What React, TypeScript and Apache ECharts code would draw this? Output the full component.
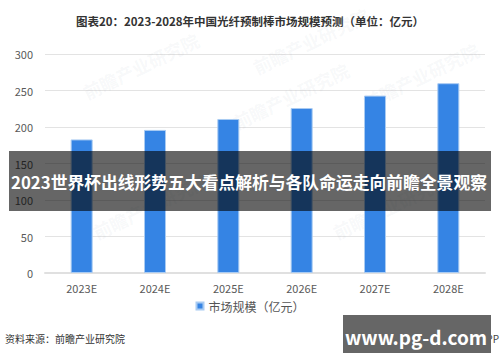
import React, { useEffect, useRef } from "react";
import * as echarts from "echarts";

const categories = ["2023E", "2024E", "2025E", "2026E", "2027E", "2028E"];
const marketSize = [183, 196, 211, 226, 243, 260];
const seriesName = "市场规模（亿元）";
const titleText = "图表20：2023-2028年中国光纤预制棒市场规模预测（单位：亿元）";
const overlayText = "2023世界杯出线形势五大看点解析与各队命运走向前瞻全景观察";
const sourceText = "资料来源：前瞻产业研究院";
const siteText = "www.pg-d.com";

const FONT = "'Noto Sans CJK SC', 'Noto Sans', sans-serif";

export default function App() {
  const ref = useRef<HTMLDivElement>(null);
  useEffect(() => {
    if (!ref.current) return;
    const chart = echarts.init(ref.current, null, { renderer: "svg" });
    const wm = (x: number, y: number) => ({
      type: "text",
      x,
      y,
      rotation: Math.PI / 7,
      z: 1,
      style: {
        text: "前瞻产业研究院",
        font: `bold 18px ${FONT}`,
        fill: "rgba(150,160,175,0.08)",
      },
    });
    chart.setOption({
      animation: false,
      backgroundColor: "#ffffff",
      textStyle: { fontFamily: FONT },
      grid: { left: 45, right: 15, top: 54, bottom: 89 },
      legend: {
        data: [seriesName],
        bottom: 45,
        left: "center",
        icon: "rect",
        itemWidth: 7,
        itemHeight: 7,
        itemGap: 4,
        textStyle: { fontSize: 12, color: "#555555", fontFamily: FONT },
      },
      xAxis: {
        type: "category",
        data: categories,
        axisTick: { show: false },
        axisLine: { lineStyle: { color: "#e0e0e0", width: 2 } },
        axisLabel: { color: "#595959", fontSize: 11, margin: 9, fontFamily: FONT },
      },
      yAxis: {
        type: "value",
        min: 0,
        max: 300,
        interval: 50,
        axisLine: { show: false },
        axisTick: { show: false },
        axisLabel: { color: "#595959", fontSize: 11, margin: 12, fontFamily: FONT },
        splitLine: { lineStyle: { color: "#e3e3e3", width: 1 } },
      },
      series: [
        {
          name: seriesName,
          type: "bar",
          data: marketSize,
          barWidth: "30%",
          itemStyle: { color: "#3584e4", borderColor: "#a9cbf2", borderWidth: 1 },
        },
      ],
      graphic: [
        wm(80, 85),
        wm(250, 60),
        wm(230, 115),
        wm(360, 95),
        wm(90, 225),
        wm(330, 225),
        {
          type: "text",
          x: 250,
          y: 21,
          z: 10,
          style: {
            text: titleText,
            font: `bold 11.5px ${FONT}`,
            fill: "#333333",
            align: "center",
            verticalAlign: "middle",
          },
        },
        {
          type: "rect",
          z: 100,
          shape: { x: 9, y: 151, width: 482, height: 60 },
          style: { fill: "rgba(0,0,0,0.6)" },
        },
        {
          type: "text",
          x: 249,
          y: 182,
          z: 101,
          style: {
            text: overlayText,
            font: `bold 16.8px ${FONT}`,
            fill: "#ffffff",
            align: "center",
            verticalAlign: "middle",
          },
        },
        {
          type: "text",
          x: 5,
          y: 338,
          z: 10,
          style: {
            text: sourceText,
            font: `10px ${FONT}`,
            fill: "#333333",
            align: "left",
            verticalAlign: "middle",
          },
        },
        {
          type: "text",
          x: 499,
          y: 338,
          z: 10,
          style: {
            text: "@前瞻经济学人APP",
            font: `10px ${FONT}`,
            fill: "#444444",
            align: "right",
            verticalAlign: "middle",
          },
        },
        {
          type: "rect",
          z: 100,
          shape: { x: 343, y: 315, width: 148, height: 38 },
          style: { fill: "#666666" },
        },
        {
          type: "text",
          x: 416,
          y: 336,
          z: 101,
          style: {
            text: siteText,
            font: `bold 19px ${FONT}`,
            fill: "#ffffff",
            align: "center",
            verticalAlign: "middle",
          },
        },
      ],
    });
    return () => chart.dispose();
  }, []);
  return (
    <div
      ref={ref}
      style={{ position: "fixed", left: 0, top: 0, width: 500, height: 362 }}
    />
  );
}
